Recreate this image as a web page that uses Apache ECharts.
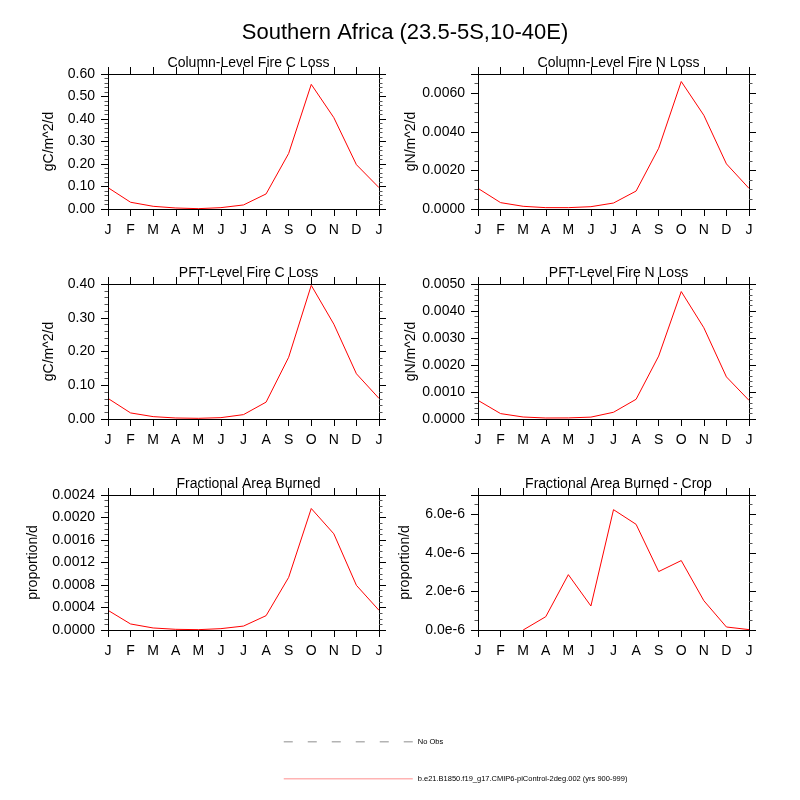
<!DOCTYPE html>
<html>
<head>
<meta charset="utf-8">
<script src="https://cdn.jsdelivr.net/npm/echarts@6/dist/echarts.min.js"></script>
<style>
  html, body { margin: 0; padding: 0; background: #fff; }
  #chart { width: 800px; height: 800px; }
</style>
</head>
<body>
<div id="chart"></div>
<script>
// month labels (Jan repeated at the end)
var months = ['J', 'F', 'M', 'A', 'M', 'J', 'J', 'A', 'S', 'O', 'N', 'D', 'J'];

var modelName = 'b.e21.B1850.f19_g17.CMIP6-piControl-2deg.002 (yrs 900-999)';
var obsName = 'No Obs';

// values (null = not drawn)
var colFireC = [0.095, 0.030, 0.012, 0.0045, 0.0015, 0.006, 0.018, 0.067, 0.247, 0.554, 0.406, 0.197, 0.095];
var colFireN = [0.00107, 0.00033, 0.00014, 0.00007, 0.00007, 0.00012, 0.00031, 0.00093, 0.00315, 0.00661, 0.00486, 0.00234, 0.00107];
var pftFireC = [0.061, 0.018, 0.007, 0.003, 0.002, 0.004, 0.013, 0.050, 0.183, 0.396, 0.281, 0.134, 0.061];
var pftFireN = [0.00069, 0.00020, 0.000074, 0.000037, 0.00004, 0.00007, 0.00025, 0.00073, 0.00233, 0.00472, 0.00338, 0.00156, 0.00069];
var areaBurned = [0.00035, 0.000107, 0.000036, 0.000012, 0.000006, 0.000024, 0.00007, 0.000255, 0.000936, 0.00216, 0.00171, 0.000794, 0.00035];
var areaBurnedCrop = [null, null, 0, 0.69e-6, 2.87e-6, 1.245e-6, 6.24e-6, 5.48e-6, 3.03e-6, 3.6e-6, 1.52e-6, 0.156e-6, 0.02e-6];

var panelTitles = ['Column-Level Fire C Loss', 'Column-Level Fire N Loss', 'PFT-Level Fire C Loss',
                   'PFT-Level Fire N Loss', 'Fractional Area Burned', 'Fractional Area Burned - Crop'];
var unitNames = ['gC/m^2/d', 'gN/m^2/d', 'gC/m^2/d', 'gN/m^2/d', 'proportion/d', 'proportion/d'];
var yMax = [0.6, 0.007, 0.4, 0.005, 0.0024, 7e-6];
var yStep = [0.1, 0.002, 0.1, 0.001, 0.0004, 2e-6];
var yMinor = [5, 4, 5, 5, 4, 4];
var seriesData = [colFireC, colFireN, pftFireC, pftFireN, areaBurned, areaBurnedCrop];

var FONT = '"Liberation Sans", Arial, Helvetica, sans-serif';
var lefts = [108, 478];
var tops = [74, 284, 495];
var W = 271, H = 135;
var nameGaps = [52, 60, 52, 60, 68, 66];

function yFmt(i) {
    return function(v) {
        if (i === 5) return (v * 1e6).toFixed(1) + 'e-6';
        if (i === 0 || i === 2) return v.toFixed(2);
        return v.toFixed(4);
    };
}

var grids = [], xAxes = [], yAxes = [], series = [], titles = [];

titles.push({
    text: 'Southern Africa (23.5-5S,10-40E)',
    left: 400, top: 17, textAlign: 'center',
    textStyle: { fontFamily: FONT, fontSize: 22, fontWeight: 'normal', color: '#000' }
});

var lineAxis = { show: true, onZero: false, lineStyle: { color: '#000', width: 1 } };

for (var i = 0; i < 6; i++) {
    var col = i % 2, row = Math.floor(i / 2);
    grids.push({ left: lefts[col], top: tops[row], width: W, height: H });

    titles.push({
        text: panelTitles[i],
        left: lefts[col] + W / 2, top: tops[row] - 23, textAlign: 'center',
        textStyle: { fontFamily: FONT, fontSize: 14, fontWeight: 'normal', color: '#000' }
    });

    var xBase = {
        type: 'value', gridIndex: i, min: 0, max: 12, interval: 1, z: 5,
        axisLine: lineAxis,
        axisTick: { show: true, length: 7, lineStyle: { color: '#000' } },
        splitLine: { show: false }
    };
    xAxes.push(Object.assign({}, xBase, {
        position: 'bottom',
        axisLabel: {
            margin: 14, fontFamily: FONT, fontSize: 14, color: '#000',
            formatter: function(v) { return months[v]; }
        }
    }));
    xAxes.push(Object.assign({}, xBase, { position: 'top', axisLabel: { show: false } }));

    var yBase = {
        type: 'value', gridIndex: i, min: 0, max: yMax[i], interval: yStep[i], z: 5,
        axisLine: lineAxis,
        axisTick: { show: true, length: 7, lineStyle: { color: '#000' } },
        minorTick: { show: true, splitNumber: yMinor[i], length: 3.5, lineStyle: { color: '#555' } },
        splitLine: { show: false }
    };
    var ratio = yMax[i] / yStep[i];
    yAxes.push(Object.assign({}, yBase, {
        position: 'left',
        name: unitNames[i], nameLocation: 'middle', nameRotate: 90, nameGap: nameGaps[i],
        nameTextStyle: { fontFamily: FONT, fontSize: 14, color: '#000' },
        axisLabel: {
            margin: 13, fontFamily: FONT, fontSize: 14, color: '#000',
            showMaxLabel: Math.abs(ratio - Math.round(ratio)) < 1e-9,
            formatter: yFmt(i)
        }
    }));
    yAxes.push(Object.assign({}, yBase, { position: 'right', axisLabel: { show: false } }));

    series.push({
        name: modelName, type: 'line', xAxisIndex: i * 2, yAxisIndex: i * 2,
        symbol: 'none', silent: true, z: 2,
        lineStyle: { color: '#ff0000', width: 1 }, itemStyle: { color: '#ff0000' },
        data: seriesData[i].map(function(v, k) { return [k, v]; })
    });
}

// placeholder for the missing observations
series.push({
    name: obsName, type: 'line', xAxisIndex: 0, yAxisIndex: 0, symbol: 'none', data: [],
    lineStyle: { color: '#b3b3b3', width: 1.5, type: [9, 15] }, itemStyle: { color: '#b3b3b3' }
});

var legendText = { fontFamily: FONT, fontSize: 7.5, color: '#000' };

var option = {
    backgroundColor: '#fff',
    animation: false,
    title: titles,
    grid: grids,
    xAxis: xAxes,
    yAxis: yAxes,
    legend: [{
        data: [{ name: obsName, itemStyle: { opacity: 0 },
                 lineStyle: { color: '#b3b3b3', width: 1.5, type: [9, 15] } }],
        left: 283, top: 737, padding: 0, itemWidth: 129, itemHeight: 12, selectedMode: false,
        textStyle: legendText
    }, {
        data: [{ name: modelName, itemStyle: { opacity: 0 },
                 lineStyle: { color: '#ffb3b3', width: 1.5 } }],
        left: 283, top: 774, padding: 0, itemWidth: 129, itemHeight: 12, selectedMode: false,
        textStyle: legendText
    }],
    series: series
};

var myChart = echarts.init(document.getElementById('chart'));
myChart.setOption(option);
</script>
</body>
</html>
